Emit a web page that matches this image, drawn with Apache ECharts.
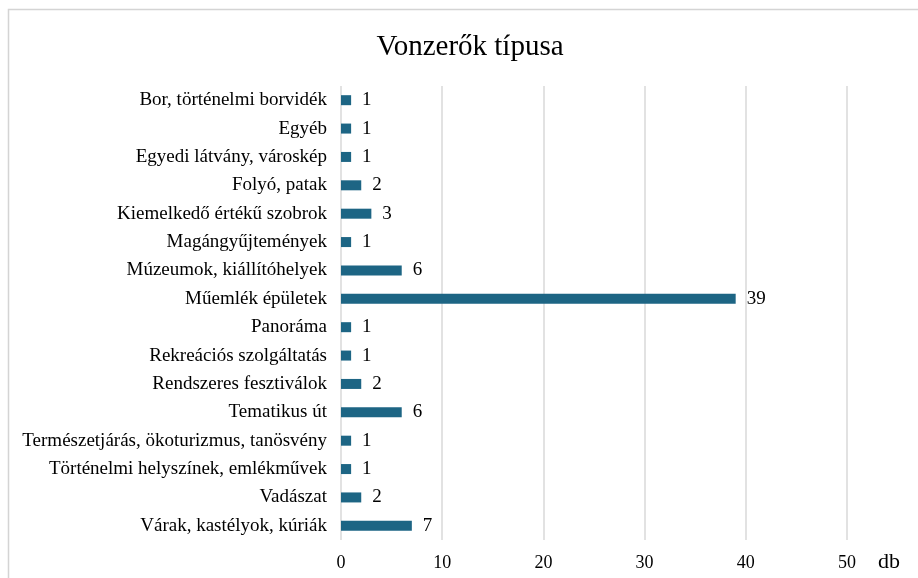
<!DOCTYPE html>
<html>
<head>
<meta charset="utf-8">
<script src="https://cdn.jsdelivr.net/npm/echarts@6/dist/echarts.min.js"></script>
<style>
  html, body { margin: 0; padding: 0; background: #fff; }
  #chart { width: 918px; height: 578px; }
</style>
</head>
<body>
<div id="chart"></div>
<script>
// Attraction types, listed top to bottom
const categories = [
  'Bor, történelmi borvidék',
  'Egyéb',
  'Egyedi látvány, városkép',
  'Folyó, patak',
  'Kiemelkedő értékű szobrok',
  'Magángyűjtemények',
  'Múzeumok, kiállítóhelyek',
  'Műemlék épületek',
  'Panoráma',
  'Rekreációs szolgáltatás',
  'Rendszeres fesztiválok',
  'Tematikus út',
  'Természetjárás, ökoturizmus, tanösvény',
  'Történelmi helyszínek, emlékművek',
  'Vadászat',
  'Várak, kastélyok, kúriák'
];
const counts = [1, 1, 1, 2, 3, 1, 6, 39, 1, 1, 2, 6, 1, 1, 2, 7];
const xTicks = { min: 0, max: 50, interval: 10 };

const serif = '"Liberation Serif", "DejaVu Serif", serif';
const chart = echarts.init(document.getElementById('chart'));

chart.setOption({
  backgroundColor: '#ffffff',
  animation: false,
  title: {
    text: 'Vonzerők típusa',
    left: 465,
    top: 28,
    textAlign: 'center',
    textStyle: { fontFamily: serif, fontSize: 29, fontWeight: 'normal', color: '#000' }
  },
  graphic: [{
    type: 'rect',
    shape: { x: 8.5, y: 9.5, width: 930, height: 600 },
    style: { fill: 'none', stroke: '#d4d4d4', lineWidth: 1.5 },
    silent: true
  }],
  grid: { left: 341, right: 71, top: 86, bottom: 38 },
  xAxis: {
    type: 'value',
    min: xTicks.min,
    max: xTicks.max,
    interval: xTicks.interval,
    name: 'db',
    nameLocation: 'end',
    nameGap: 31,
    nameTextStyle: {
      fontFamily: serif, fontSize: 22, color: '#000',
      verticalAlign: 'top', padding: [11, 0, 0, 0]
    },
    axisLine: { show: false },
    axisTick: { show: false },
    axisLabel: { fontFamily: serif, fontSize: 18, color: '#000', margin: 14 },
    splitLine: { show: true, lineStyle: { color: '#d9d9d9', width: 1.5 } }
  },
  yAxis: {
    type: 'category',
    data: categories,
    inverse: true,
    axisLine: { show: false },
    axisTick: { show: false },
    axisLabel: { fontFamily: serif, fontSize: 19, color: '#000', margin: 14 }
  },
  series: [{
    type: 'bar',
    data: counts,
    barWidth: 10,
    itemStyle: { color: '#1d6584' },
    label: {
      show: true,
      position: 'right',
      distance: 11,
      fontFamily: serif,
      fontSize: 19,
      color: '#000'
    }
  }]
});
</script>
</body>
</html>
